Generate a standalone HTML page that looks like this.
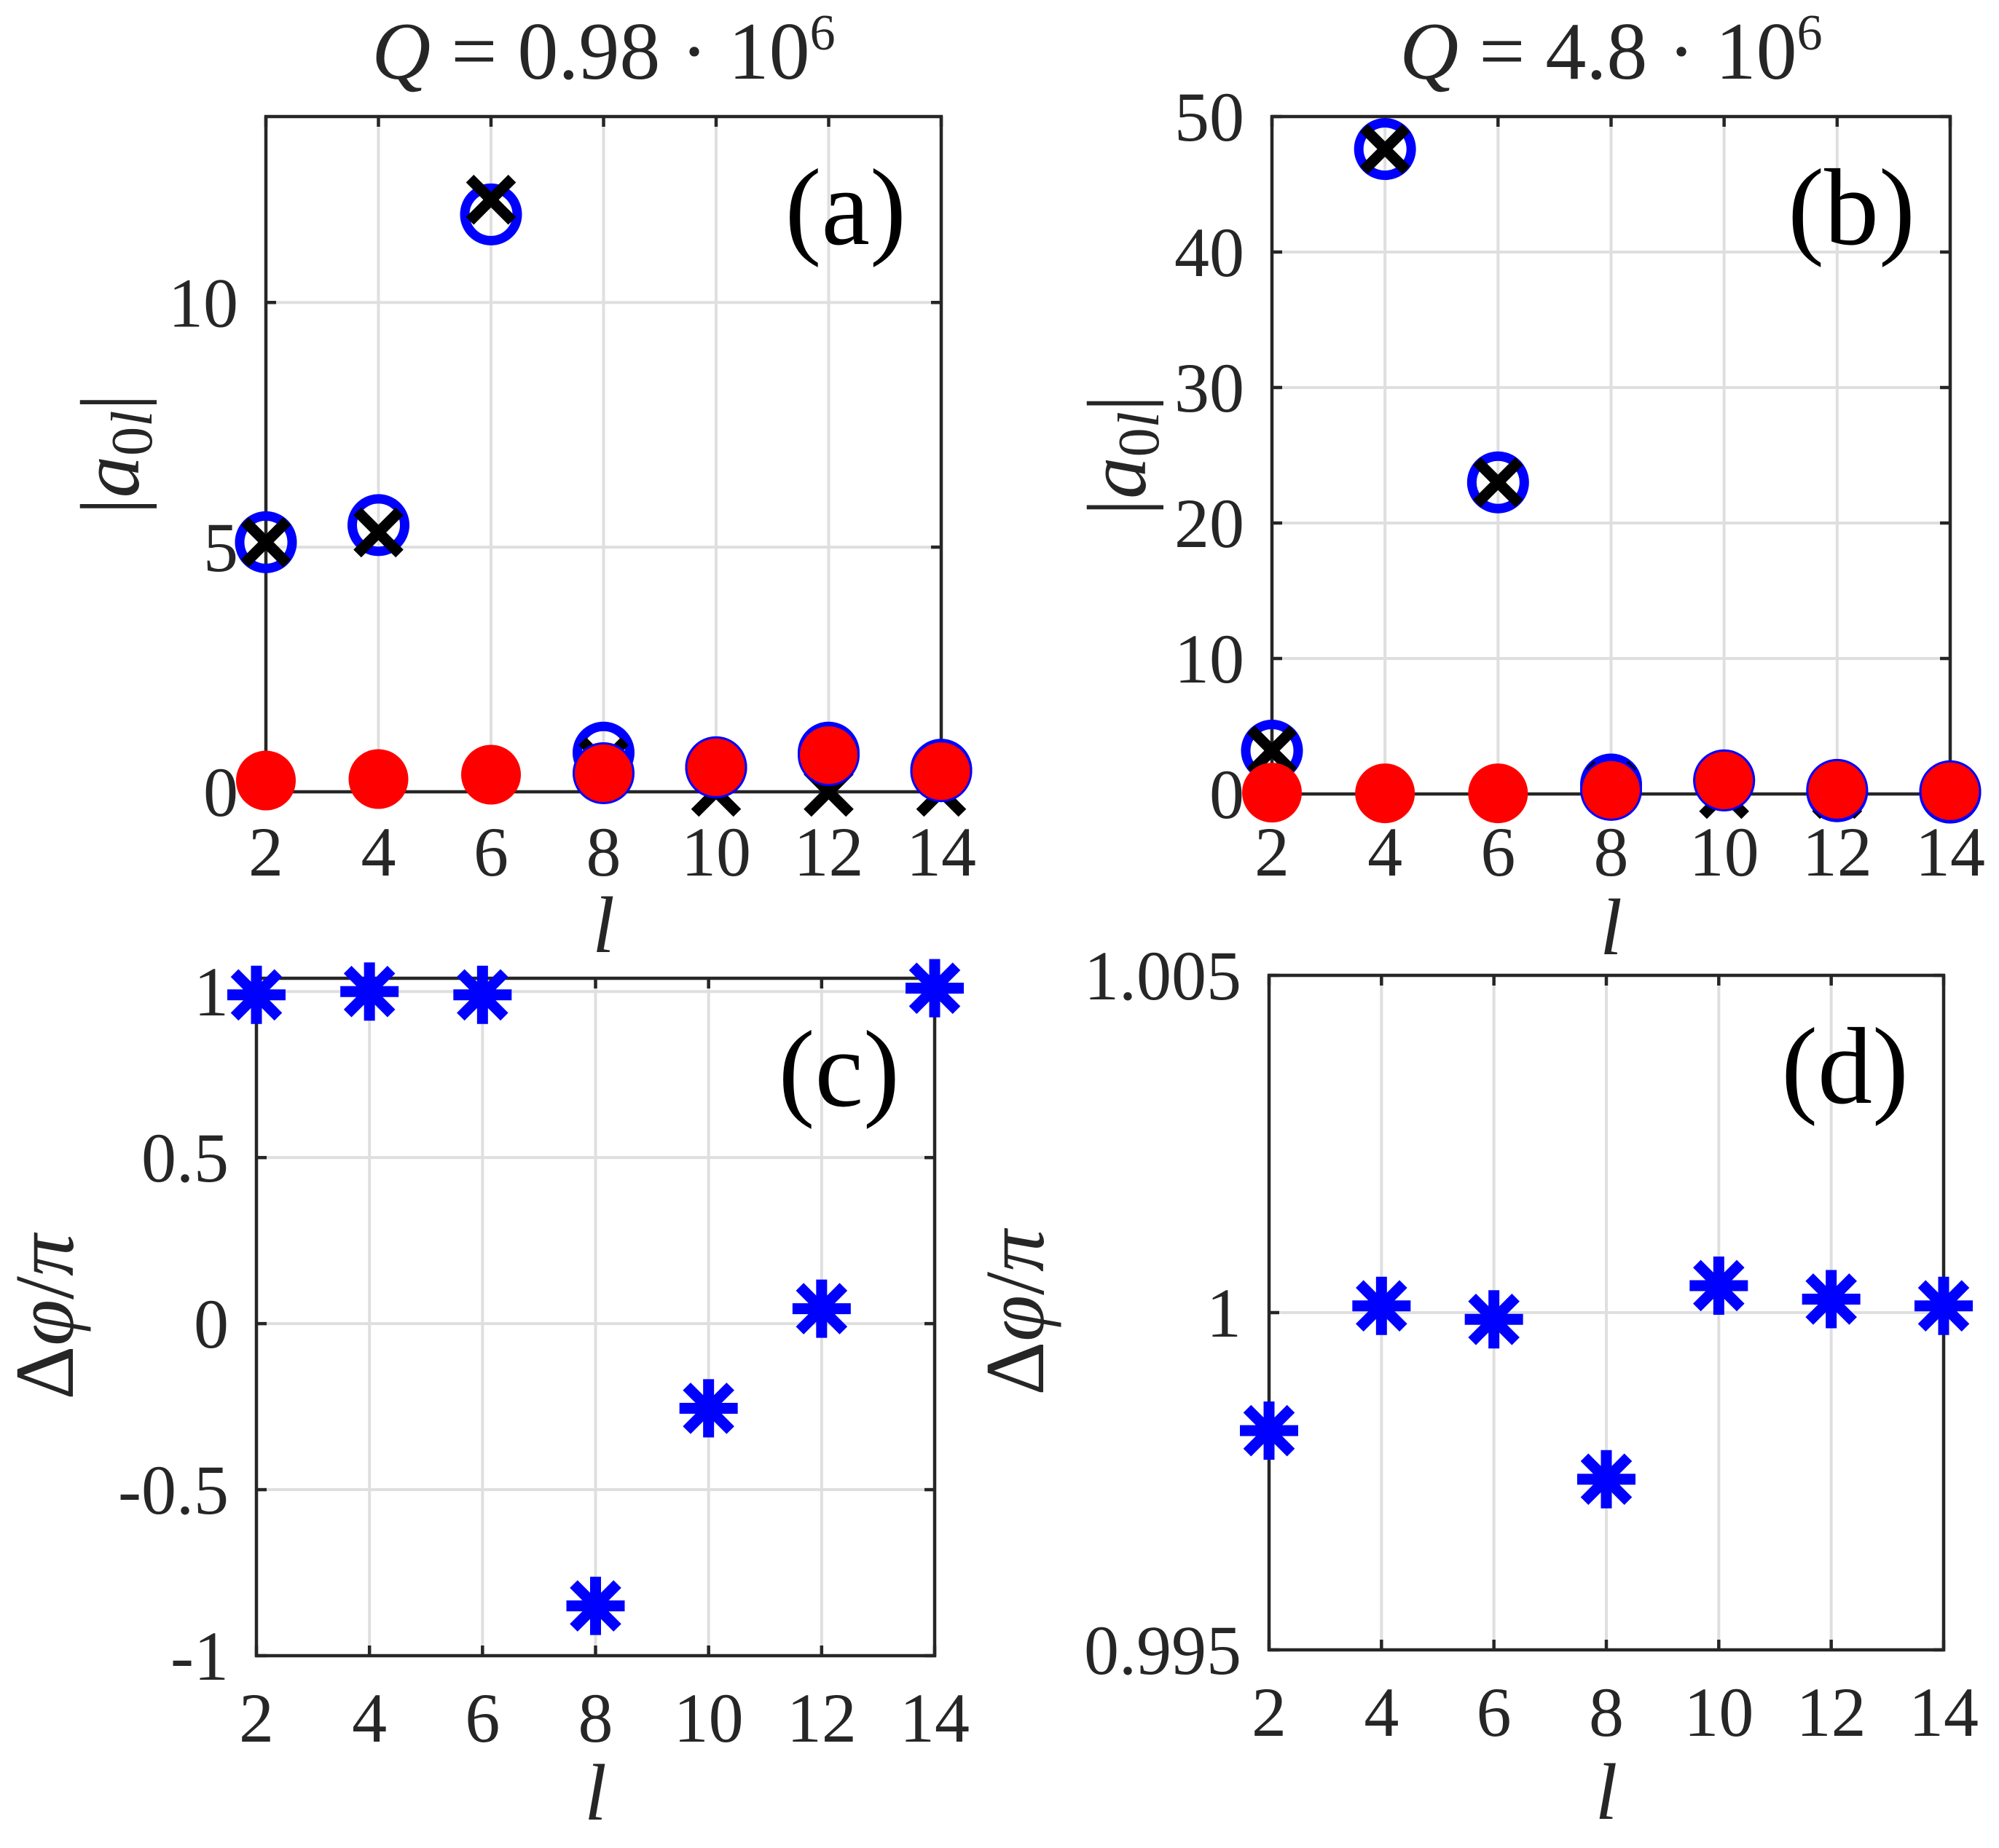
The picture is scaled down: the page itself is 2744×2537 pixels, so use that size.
<!DOCTYPE html>
<html><head><meta charset="utf-8"><style>
html,body{margin:0;padding:0;background:#fff}
svg{display:block}
svg text{font-family:"Liberation Serif","DejaVu Serif",serif;fill:#262626}
</style></head><body>
<svg id="fig" width="2744" height="2537" viewBox="0 0 2744 2537" xmlns="http://www.w3.org/2000/svg" font-family="Liberation Serif, DejaVu Serif, serif">
</svg>
<script>
const lVals = [2,4,6,8,10,12,14];
const aBlue = [5.1,5.45,11.8,0.8,0.5,0.8,0.45];
const aBlack = [5.1,5.3,12.1,0.6,0,0,0];
const aRed = [0.23,0.26,0.35,0.38,0.5,0.75,0.42];
const bBlue = [3.2,47.6,23.0,0.7,1.0,0.2,0.1];
const bBlack = [3.2,47.6,23.0,0.6,0,0,0.1];
const bRed = [0.1,0.05,0.05,0.3,1.0,0.3,0.2];
const cPhase = [0.99,1.0,0.99,-0.85,-0.255,0.045,1.01];
const dPhase = [0.99825,1.0001,0.9999,0.99753,1.0004,1.0002,1.0001];
const aYTicks = [0,5,10];
const bYTicks = [0,10,20,30,40,50];
const cYTicks = [-1,-0.5,0,0.5,1];
const cYLabels = ['-1','-0.5','0','0.5','1'];
const dYTicks = [0.995,1,1.005];
const dYLabels = ['0.995','1','1.005'];

const NS='http://www.w3.org/2000/svg';
const svg=document.getElementById('fig');
const FF='"Liberation Serif","DejaVu Serif",serif';
function mk(tag,attrs,parent){const e=document.createElementNS(NS,tag);for(const k in attrs)e.setAttribute(k,attrs[k]);if(tag==='text'){e.style.fontFamily=FF;}(parent||svg).appendChild(e);return e;}

function panel(p){
  const g=mk('g',{});
  
  
  const sx=v=>p.x0+(v-2)/(14-2)*(p.x1-p.x0);
  const sy=v=>p.y1-(v-p.ymin)/(p.ymax-p.ymin)*(p.y1-p.y0);
  lVals.forEach(l=>{const e=mk('line',{x1:sx(l),x2:sx(l),y1:p.y0,y2:p.y1,stroke:'#dfdfdf','stroke-width':4},g);
    
    });
  p.yt.forEach(v=>{const e=mk('line',{x1:p.x0,x2:p.x1,y1:sy(v),y2:sy(v),stroke:'#dfdfdf','stroke-width':4},g);
    
    });
  lVals.forEach(l=>{mk('line',{x1:sx(l),x2:sx(l),y1:p.y1,y2:p.y1-14,stroke:'#262626','stroke-width':4.5},g);
    mk('line',{x1:sx(l),x2:sx(l),y1:p.y0,y2:p.y0+14,stroke:'#262626','stroke-width':4.5},g);
    const t=mk('text',{x:sx(l),y:p.y1+p.xtOff,'font-size':96,'text-anchor':'middle'},g);t.textContent=l;
    
    });
  p.yt.forEach((v,i)=>{mk('line',{x1:p.x0,x2:p.x0+14,y1:sy(v),y2:sy(v),stroke:'#262626','stroke-width':4.5},g);
    mk('line',{x1:p.x1,x2:p.x1-14,y1:sy(v),y2:sy(v),stroke:'#262626','stroke-width':4.5},g);
    const t=mk('text',{x:p.x0-38,y:sy(v)+33,'font-size':96,'text-anchor':'end'},g);t.textContent=p.yl?p.yl[i]:v;
    
    });
  const box=mk('rect',{x:p.x0,y:p.y0,width:p.x1-p.x0,height:p.y1-p.y0,fill:'none',stroke:'#262626','stroke-width':4.5},g);
  
  
  (p.series||[]).forEach(s=>{
    s.vals.forEach((v,i)=>{
      const cx=sx(lVals[i]),cy=sy(v);let e;
      if(s.type==='circle'){e=mk('circle',{cx,cy,r:36,fill:'none',stroke:'#0000ff','stroke-width':13},g);}
      else if(s.type==='x'){e=mk('path',{d:`M${cx-29},${cy-29}L${cx+29},${cy+29}M${cx-29},${cy+29}L${cx+29},${cy-29}`,stroke:'#000','stroke-width':15},g);}
      else if(s.type==='dot'){const near=Math.abs(s.blue[i]-v)<0.6;e=mk('circle',{cx,cy,r:41,fill:'#ff0000',stroke:'#0000ff','stroke-width':near?3:0},g);}
      else {e=mk('path',{d:`M${cx},${cy-40}V${cy+40}M${cx-40},${cy}H${cx+40}M${cx-30},${cy-30}L${cx+30},${cy+30}M${cx-30},${cy+30}L${cx+30},${cy-30}`,stroke:'#0000ff','stroke-width':15},g);}
      
      
    });
  });
  const pl=mk('text',{x:p.x1-48,y:p.y0+175,'font-size':150,'text-anchor':'end',style:'fill:#000'},g);pl.textContent=p.label;
  pl.style.fontFamily=FF;
  
  
  const xl=mk('text',{x:(p.x0+p.x1)/2,y:p.y1+p.xlOff,'font-size':110,'text-anchor':'middle','font-style':'italic'},g);xl.textContent='l';
  
  
  const yl=mk('text',{x:0,y:0,'font-size':115,'text-anchor':'middle',transform:`translate(${p.ylx},${(p.y0+p.y1)/2}) rotate(-90)`},g);
  yl.innerHTML=p.ylab;
  
  
  if(p.title){const t=mk('text',{x:(p.x0+p.x1)/2,y:108,'font-size':112,'text-anchor':'middle'},g);t.innerHTML=p.title;
    
    }
}
const ampLab='|<tspan font-style="italic">a</tspan><tspan font-size="80" dy="18">0<tspan font-style="italic">l</tspan></tspan><tspan dy="-18">|</tspan>';
const phLab='Δ<tspan font-style="italic">φ</tspan>/<tspan font-style="italic">π</tspan>';
panel({name:'panel-a',x0:365,x1:1292,y0:160,y1:1087,ymin:0,ymax:13.8,yt:aYTicks,label:'(a)',xtOff:115,xlOff:220,ylx:190,ylab:ampLab,
  title:'<tspan font-style="italic">Q</tspan> = 0.98 · 10<tspan font-size="70" dy="-40">6</tspan>',
  series:[{type:'circle',vals:aBlue,name:'blue-circle-marker'},{type:'x',vals:aBlack,name:'black-x-marker'},{type:'dot',vals:aRed,blue:aBlue,name:'red-dot-marker'}]});
panel({name:'panel-b',x0:1746,x1:2677,y0:160,y1:1090,ymin:0,ymax:50,yt:bYTicks,label:'(b)',xtOff:112,xlOff:220,ylx:1572,ylab:ampLab,
  title:'<tspan font-style="italic">Q</tspan> = 4.8 · 10<tspan font-size="70" dy="-40">6</tspan>',
  series:[{type:'circle',vals:bBlue,name:'blue-circle-marker'},{type:'x',vals:bBlack,name:'black-x-marker'},{type:'dot',vals:bRed,blue:bBlue,name:'red-dot-marker'}]});
panel({name:'panel-c',x0:352,x1:1283,y0:1343,y1:2273,ymin:-1,ymax:1.04,yt:cYTicks,yl:cYLabels,label:'(c)',xtOff:118,xlOff:225,ylx:100,ylab:phLab,
  series:[{type:'star',vals:cPhase,name:'phase-asterisk-marker'}]});
panel({name:'panel-d',x0:1742,x1:2668,y0:1339,y1:2265,ymin:0.995,ymax:1.005,yt:dYTicks,yl:dYLabels,label:'(d)',xtOff:118,xlOff:232,ylx:1432,ylab:phLab,
  series:[{type:'star',vals:dPhase,name:'phase-asterisk-marker'}]});
</script>
</body></html>
